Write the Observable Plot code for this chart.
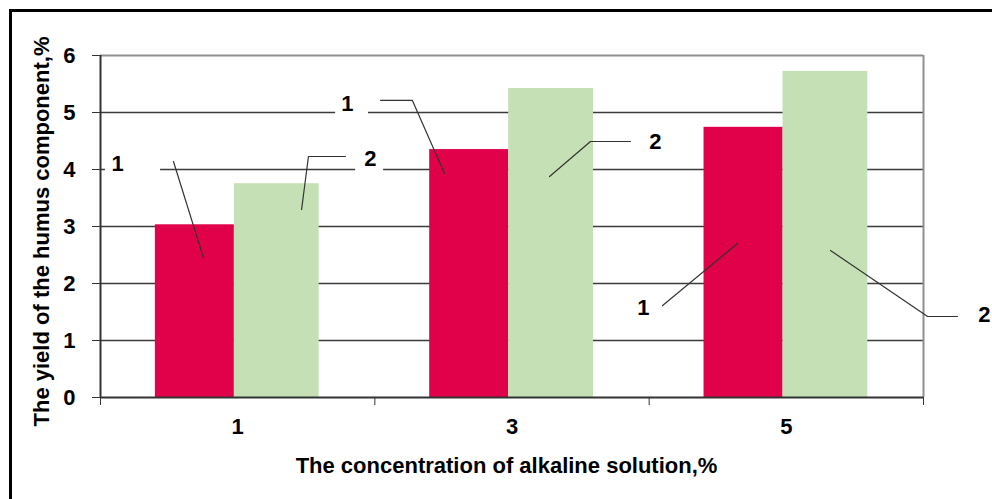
<!DOCTYPE html>
<html>
<head>
<meta charset="utf-8">
<script src="https://cdn.jsdelivr.net/npm/d3@7"></script>
<script src="https://cdn.jsdelivr.net/npm/@observablehq/plot@0.6"></script>
<style>
  html, body { margin: 0; padding: 0; background: #fff; overflow: hidden; }
  #wrap { position: relative; width: 992px; height: 499px; }
  #outer { position: absolute; left: 9px; top: 9px; width: 2000px; height: 2000px; border: 3px solid #000; box-sizing: border-box; pointer-events: none; }
</style>
</head>
<body>
<div id="wrap"><div id="outer"></div></div>
<script>
// ---- data ----
const categories = ["1", "3", "5"];          // concentration of alkaline solution, %
const seriesNames = ["1", "2"];
const series1 = [3.03, 4.35, 4.74];          // series 1 (red)
const series2 = [3.75, 5.42, 5.72];          // series 2 (green)
const yTicks = [0, 1, 2, 3, 4, 5, 6];
const yTitle = "The yield of the humus component,%";
const xTitle = "The concentration of alkaline solution,%";

// data labels (in category-slot units on x, value units on y)
const annText = ["1", "2", "1", "2", "1", "2"];
const annX = [0.062, 0.984, 0.900, 2.023, 1.979, 3.222];
const annY = [4.105, 4.193, 5.158, 4.491, 1.579, 1.456];
const annBoxX1 = [0.018, 0.930, 0.857, 1.975, 1.93, 3.19];
const annBoxX2 = [0.219, 1.032, 0.977, 2.07, 2.03, 3.26];
const leaders = [
  [[0.266, 4.14], [0.375, 2.456]],
  [[0.893, 4.228], [0.758, 4.228], [0.733, 3.298]],
  [[1.021, 5.211], [1.137, 5.211], [1.254, 3.930]],
  [[1.932, 4.491], [1.786, 4.491], [1.637, 3.877]],
  [[2.049, 1.614], [2.322, 2.702]],
  [[3.124, 1.421], [3.015, 1.421], [2.661, 2.579]]
];

// ---- layout / style ----
const colors = ["#E1004A", "#C5E0B4"];
const barStart = [0.200, 0.488];   // position of each series inside a category slot
const barEnd = [0.488, 0.797];
const font = "'Liberation Sans', Arial, sans-serif";
const fs = 22;

const bars = [];
categories.forEach((c, i) => {
  [series1, series2].forEach((vals, s) => {
    bars.push({cat: c, idx: i, s, series: seriesNames[s], value: vals[i]});
  });
});
const ann = annText.map((t, i) => ({t, x: annX[i], y: annY[i], bx1: annBoxX1[i], bx2: annBoxX2[i]}));
const leaderPts = leaders.flatMap((pts, k) => pts.map(([x, y]) => ({k, x, y})));

const chart = Plot.plot({
  width: 992,
  height: 499,
  marginLeft: 100,
  marginRight: 69,
  marginTop: 55,
  marginBottom: 102,
  x: {type: "linear", domain: [0, categories.length]},
  y: {domain: [0, 6]},
  style: {fontFamily: font, fontWeight: "bold", fontSize: fs + "px", color: "#000", background: "transparent", overflow: "visible"},
  marks: [
    Plot.ruleY(yTicks.filter(d => d > 0 && d < 6), {stroke: "#3a3a3a", strokeWidth: 1.5}),
    Plot.ruleY([6], {stroke: "#8f8f8f", strokeWidth: 2}),
    Plot.ruleX([categories.length], {y1: 0, y2: 6, stroke: "#8f8f8f", strokeWidth: 2}),
    Plot.rect(bars, {
      x1: d => d.idx + barStart[d.s],
      x2: d => d.idx + barEnd[d.s],
      y1: 0,
      y2: "value",
      fill: d => colors[d.s]
    }),
    Plot.rect(ann, {x1: "bx1", x2: "bx2", y1: d => d.y - 0.23, y2: d => d.y + 0.23, fill: "white"}),
    Plot.line(leaderPts, {x: "x", y: "y", z: "k", stroke: "#333", strokeWidth: 1.2}),
    Plot.text(ann, {x: "x", y: "y", text: "t", fontSize: fs, fontWeight: "bold", fill: "#000"}),
    Plot.ruleX([0], {y1: 0, y2: 6, stroke: "#333", strokeWidth: 2}),
    Plot.ruleY([0], {stroke: "#333", strokeWidth: 2}),
    Plot.axisY({ticks: yTicks, tickSize: 8, tickPadding: 17, stroke: "#333", fill: "#000", fontSize: fs, fontWeight: "bold", label: null, tickFormat: d => String(d)}),
    Plot.axisX({ticks: d3.range(categories.length + 1), tickFormat: () => "", tickSize: 8, stroke: "#333", label: null}),
    Plot.axisX({ticks: categories.map((c, i) => i + 0.5), tickFormat: d => categories[Math.floor(d)], tickSize: 0, tickPadding: 21, fill: "#000", fontSize: fs, fontWeight: "bold", label: null}),
    Plot.text([yTitle], {frameAnchor: "left", textAnchor: "middle", rotate: -90, dx: -58.5, dy: 5, fontSize: fs, fontWeight: "bold", fill: "#000"}),
    Plot.text([xTitle], {frameAnchor: "bottom", textAnchor: "middle", dx: -5.5, dy: 75, fontSize: fs, fontWeight: "bold", fill: "#000"})
  ]
});
chart.style.position = "absolute";
chart.style.left = "0px";
chart.style.top = "0px";
document.getElementById("wrap").prepend(chart);
</script>
</body>
</html>
